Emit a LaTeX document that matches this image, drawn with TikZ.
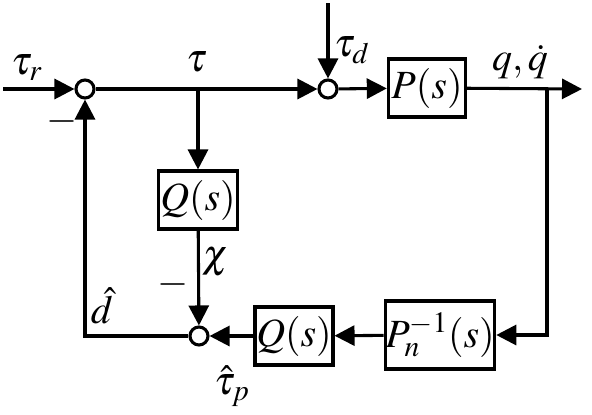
\documentclass[tikz,border=0pt]{standalone}
\usepackage{mathptmx}
\usetikzlibrary{arrows.meta}
\tikzset{
	sig/.style={line width=2.3pt,-{Triangle[length=15pt,width=15pt]}},
	wire/.style={line width=2.3pt},
	blk/.style={draw,line width=2.3pt,inner sep=0pt,font=\fontsize{30}{35}\selectfont},
	sumnode/.style={draw,circle,line width=2.3pt,fill=white,inner sep=0pt,minimum size=13.5pt},
	lbl/.style={inner sep=0.75pt,font=\fontsize{30}{35}\selectfont}
}
\begin{document}
\begin{tikzpicture}[x=0.75pt,y=0.75pt,yscale=-1,xscale=1]
			\useasboundingbox (0,0) rectangle (592,414);
			%Points
			\coordinate (in) at (3,89);
			\coordinate (br1) at (198,89);
			\coordinate (dtop) at (328,3);
			\coordinate (br2) at (547,89);
			\coordinate (out) at (582,89);
			%Shape: Circles
			\node [sumnode] (sum1) at (85,89) {};
			\node [sumnode] (sum2) at (328,89) {};
			\node [sumnode] (sum3) at (199,336) {};
			%Shape: Rectangles
			\node [blk,minimum width=58pt,minimum height=43.5pt] (plant) at (427,88) {$P(s)$};
			\node [blk,minimum width=59pt,minimum height=43.5pt] (qa) at (198,200) {$Q(s)$};
			\node [blk,minimum width=58.5pt,minimum height=43.5pt] (qb) at (294,336) {$Q(s)$};
			\node [blk,minimum width=77pt,minimum height=51pt] (pinv) at (440,335) {$P_n^{-1}(s)$};
			%Straight Lines
			\draw [sig] (in) -- (sum1);
			\draw [wire] (sum1) -- (br1);
			\draw [sig] (br1) -- (sum2);
			\draw [sig] (br1) -- (qa);
			\draw [sig] (dtop) -- (sum2);
			\draw [sig] (sum2) -- (plant);
			\draw [sig] (plant) -- (out);
			\draw [sig] (br2) |- (pinv);
			\draw [sig] (pinv) -- (qb);
			\draw [sig] (qb) -- (sum3);
			\draw [sig] (qa) -- (sum3);
			\draw [sig] (sum3) -| (sum1);
			% Text Node
			\node [lbl] (ltaur) at (27,68) {$\tau_r$};
			% Text Node
			\node [lbl] (ltau) at (197,62) {$\tau$};
			% Text Node
			\node [lbl] (ltaud) at (352,50) {$\tau_d$};
			% Text Node
			\node [lbl] (lq) at (520,62) {$q,\dot q$};
			% Text Node
			\node [lbl] (lchi) at (216,262) {$\chi$};
			% Text Node
			\node [lbl] (lma) at (173,284) {$-$};
			% Text Node
			\node [lbl] (lmb) at (62,121) {$-$};
			% Text Node
			\node [lbl] (ldh) at (102,306) {$\hat d$};
			% Text Node
			\node [lbl] (ltaup) at (232,386) {$\hat\tau_p$};
		\end{tikzpicture}
\end{document}
